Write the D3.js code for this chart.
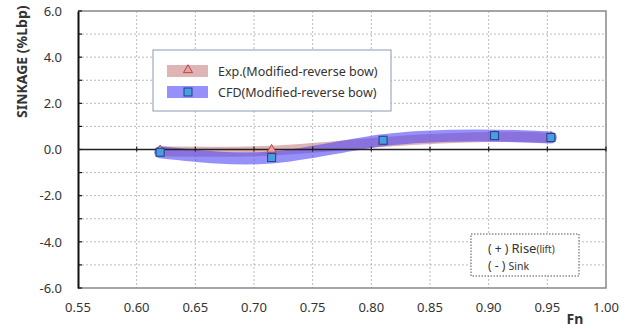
<!DOCTYPE html>
<html>
<head>
<meta charset="utf-8">
<script src="https://cdn.jsdelivr.net/npm/d3@7.9.0/dist/d3.min.js"></script>
<style>
  body { margin: 0; background: #fff; }
  text { font-family: "Noto Sans", "Open Sans", sans-serif; fill: #333; }
</style>
</head>
<body>
<svg id="chart" width="630" height="329"></svg>
<script>
// Froude numbers of the runs
const fn = [0.62, 0.715, 0.81, 0.905, 0.953];
// sinkage in %Lbp
const expSinkage = [-0.08, -0.05, 0.32, 0.55, 0.5];
const cfdSinkage = [-0.12, -0.35, 0.4, 0.6, 0.52];

const xTicks = [0.55, 0.60, 0.65, 0.70, 0.75, 0.80, 0.85, 0.90, 0.95, 1.00];
const yTicks = [-6, -4, -2, 0, 2, 4, 6];
const yGrid = [-5, -4, -3, -2, -1, 1, 2, 3, 4, 5];

const svg = d3.select('#chart');
const margin = { left: 78, right: 24, top: 11, bottom: 41 };
const W = 630, H = 329;

const x = d3.scaleLinear().domain([0.55, 1.0]).range([margin.left, W - margin.right]);
const y = d3.scaleLinear().domain([-6, 6]).range([H - margin.bottom, margin.top]);

const fmtY = d => d3.format('.1f')(d).replace('\u2212', '-');

// grid
svg.append('g')
  .selectAll('line.v')
  .data(xTicks.slice(1, -1))
  .join('line')
  .attr('x1', d => x(d)).attr('x2', d => x(d))
  .attr('y1', y(6)).attr('y2', y(-6))
  .attr('stroke', '#aaa').attr('stroke-width', 0.8)
  .attr('stroke-dasharray', '2,2');

svg.append('g')
  .selectAll('line.h')
  .data(yGrid)
  .join('line')
  .attr('x1', x(0.55)).attr('x2', x(1.0))
  .attr('y1', d => y(d)).attr('y2', d => y(d))
  .attr('stroke', '#aaa').attr('stroke-width', 0.8)
  .attr('stroke-dasharray', '2,2');

// frame (top, right, bottom)
svg.append('path')
  .attr('d', `M${x(0.55)},${y(6)}H${x(1.0)}V${y(-6)}H${x(0.55)}`)
  .attr('fill', 'none').attr('stroke', '#888').attr('stroke-width', 1.5);

// bands
const line = d3.line()
  .x(d => x(d[0])).y(d => y(d[1]))
  .curve(d3.curveNatural);

const expPts = fn.map((f, i) => [f, expSinkage[i]]);
const cfdPts = fn.map((f, i) => [f, cfdSinkage[i]]);

const expBand = 'rgba(200,130,130,0.6)';
const cfdBand = 'rgba(80,70,245,0.6)';

svg.append('path')
  .attr('d', line(expPts))
  .attr('fill', 'none')
  .attr('stroke', expBand)
  .attr('stroke-width', 10)
  .attr('stroke-linecap', 'round');

svg.append('path')
  .attr('d', line(cfdPts))
  .attr('fill', 'none')
  .attr('stroke', cfdBand)
  .attr('stroke-width', 12)
  .attr('stroke-linecap', 'round');

// y axis (left) with inside ticks
const yAxis = d3.axisLeft(y).tickValues(yTicks).tickSize(0).tickPadding(16)
  .tickFormat(fmtY);
const gy = svg.append('g').attr('transform', `translate(${x(0.55)},0)`).call(yAxis);
gy.select('.domain').attr('stroke', '#111').attr('stroke-width', 2);
gy.selectAll('text').style('font-size', '13px').attr('fill', '#333');

svg.append('g')
  .selectAll('line')
  .data(d3.range(-6, 7, 1))
  .join('line')
  .attr('x1', x(0.55)).attr('x2', x(0.55) + 4)
  .attr('y1', d => y(d)).attr('y2', d => y(d))
  .attr('stroke', '#111').attr('stroke-width', 1.2);

// x axis line at zero
svg.append('line')
  .attr('x1', x(0.55)).attr('x2', x(1.0))
  .attr('y1', y(0)).attr('y2', y(0))
  .attr('stroke', '#222').attr('stroke-width', 1.5);

svg.append('g')
  .selectAll('line')
  .data(xTicks.slice(1))
  .join('line')
  .attr('x1', d => x(d)).attr('x2', d => x(d))
  .attr('y1', y(0) - 3).attr('y2', y(0) + 2)
  .attr('stroke', '#222').attr('stroke-width', 1.2);

// x tick labels along bottom
svg.append('g')
  .selectAll('text')
  .data(xTicks)
  .join('text')
  .attr('x', d => x(d)).attr('y', y(-6) + 24)
  .attr('text-anchor', 'middle')
  .style('font-size', '13px')
  .text(d => d3.format('.2f')(d));

// markers
const tri = d3.symbol().type(d3.symbolTriangle).size(36);
svg.append('g')
  .selectAll('path')
  .data(expPts)
  .join('path')
  .attr('d', tri)
  .attr('transform', d => `translate(${x(d[0])},${y(d[1]) - 1})`)
  .attr('fill', '#e8a0a0').attr('stroke', '#b04848').attr('stroke-width', 1);

svg.append('g')
  .selectAll('rect')
  .data(cfdPts)
  .join('rect')
  .attr('x', d => x(d[0]) - 4).attr('y', d => y(d[1]) - 4)
  .attr('width', 8).attr('height', 8)
  .attr('fill', '#4a9ee0').attr('stroke', '#1f3f8f').attr('stroke-width', 1);

// axis titles
svg.append('text')
  .attr('transform', `translate(27,${y(3.8)}) rotate(-90)`)
  .attr('text-anchor', 'middle')
  .style('font-size', '14px').style('font-weight', 'bold')
  .attr('fill', '#111')
  .text('SINKAGE (%Lbp)');

svg.append('text')
  .attr('x', 575).attr('y', 324)
  .attr('text-anchor', 'middle')
  .style('font-size', '14px').style('font-weight', 'bold')
  .attr('fill', '#111')
  .text('Fn');

// legend
const leg = svg.append('g').attr('transform', 'translate(153,50)');
leg.append('rect')
  .attr('width', 238).attr('height', 61)
  .attr('fill', '#fff').attr('stroke', '#8a9bb0').attr('stroke-width', 1);

const legendItems = [
  { label: 'Exp.(Modified-reverse bow)', band: expBand, kind: 'tri' },
  { label: 'CFD(Modified-reverse bow)', band: cfdBand, kind: 'sq' }
];
legendItems.forEach((it, i) => {
  const gy0 = 21 + i * 21;
  leg.append('rect')
    .attr('x', 14).attr('y', gy0 - 6).attr('width', 41).attr('height', 12)
    .attr('fill', it.band);
  if (it.kind === 'tri') {
    leg.append('path').attr('d', tri)
      .attr('transform', `translate(35,${gy0 - 1})`)
      .attr('fill', '#e8a0a0').attr('stroke', '#b04848').attr('stroke-width', 1);
  } else {
    leg.append('rect')
      .attr('x', 31).attr('y', gy0 - 4).attr('width', 8).attr('height', 8)
      .attr('fill', '#4a9ee0').attr('stroke', '#1f3f8f').attr('stroke-width', 1);
  }
  leg.append('text')
    .attr('x', 65).attr('y', gy0 + 5)
    .style('font-size', '12.5px')
    .text(it.label);
});

// sign note
const note = svg.append('g').attr('transform', 'translate(471,234)');
note.append('rect')
  .attr('width', 108).attr('height', 42)
  .attr('fill', '#fff').attr('stroke', '#555').attr('stroke-width', 1)
  .attr('stroke-dasharray', '1.5,1.5');
const t1 = note.append('text').attr('x', 17).attr('y', 19).style('font-size', '12px');
t1.append('tspan').text('( + ) ');
t1.append('tspan').style('font-size', '13px').text('Rise');
t1.append('tspan').style('font-size', '10px').text('(lift)');
const t2 = note.append('text').attr('x', 17).attr('y', 36).style('font-size', '12px');
t2.append('tspan').text('( - ) ');
t2.append('tspan').style('font-size', '10.5px').text('Sink');
</script>
</body>
</html>
